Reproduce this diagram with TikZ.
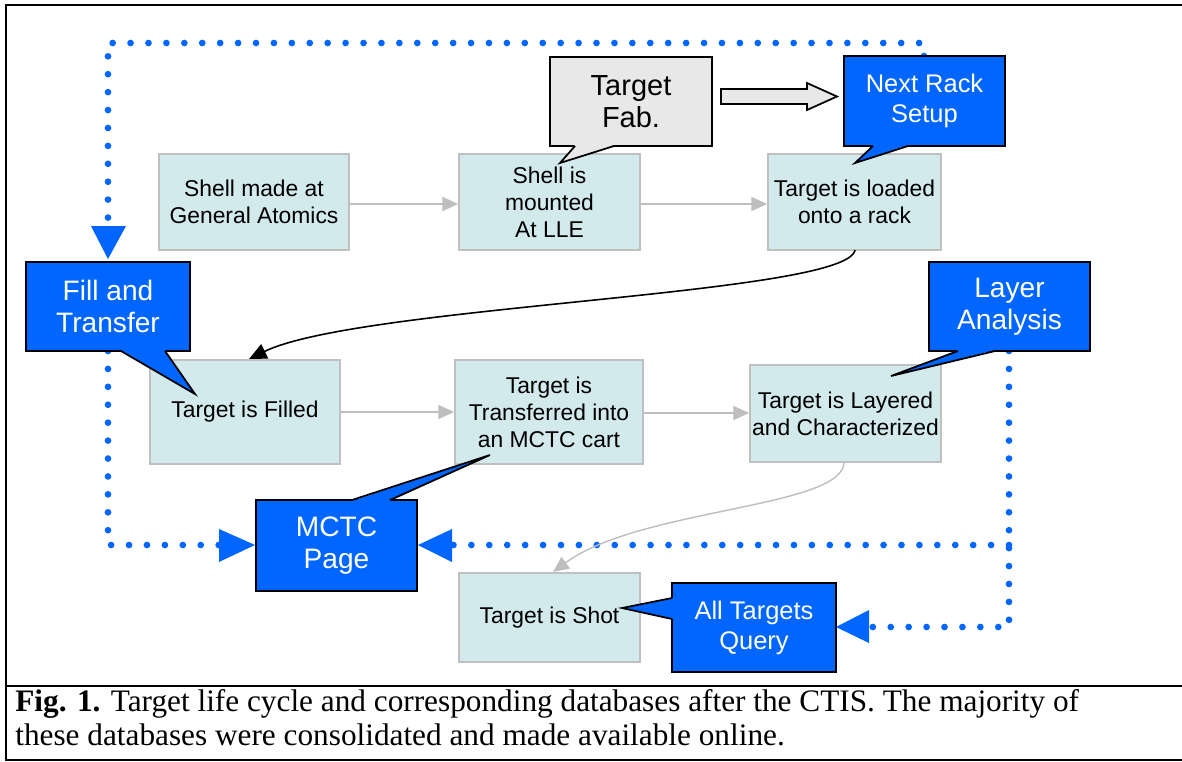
\documentclass[tikz,border=0pt]{standalone}
\usepackage{fontspec}
\setmainfont{Liberation Serif}
\newfontfamily\arialf{Liberation Sans}
\usetikzlibrary{arrows.meta}
\definecolor{cblue}{RGB}{0,102,255}
\definecolor{boxfill}{RGB}{210,234,236}
\definecolor{boxline}{RGB}{192,192,192}
\definecolor{fabgray}{RGB}{232,232,232}
\definecolor{flowgray}{RGB}{190,190,190}
\tikzset{
  stepbox/.style={draw=boxline, line width=1pt, fill=boxfill, align=center, inner sep=0pt,
    font=\arialf\fontsize{13}{15.3}\selectfont, text=black},
  bluecall/.style={draw=black, line width=1pt, fill=cblue, align=center, inner sep=0pt,
    font=\arialf\fontsize{16}{18}\selectfont, text=white},
  tailfill/.style={fill=cblue},
  tailline/.style={draw=black, line width=1pt},
  flow/.style={draw=flowgray, line width=0.8pt, -{Triangle[length=9pt,width=8pt]}},
  dotline/.style={draw=cblue, line width=3.8pt, line cap=round, dash pattern=on 0pt off 10.2pt},
  captext/.style={anchor=base west, inner sep=0pt, font=\fontsize{17.8}{20}\selectfont},
}
\begin{document}
\begin{tikzpicture}[x=0.02cm,y=-0.02cm]
\useasboundingbox (0,0) rectangle (1182,761);
\fill[white] (0,0) rectangle (1182,761);

% frame
\draw[line width=1.4pt] (1182,5) -- (6,5) -- (6,686);
\draw[line width=0.9pt] (6,686) -- (6,760) -- (1182,760);
\draw[line width=1.4pt] (6,686) -- (1182,686);

% corner coordinates of dotted routes
\coordinate (tr) at (924,43);
\coordinate (tl) at (108,43);
\coordinate (bl) at (108,545);
\coordinate (rm) at (1009,545);
\coordinate (rb) at (1009,627);

\coordinate (nextc) at (924.5,101);
\coordinate (fillc) at (108,306.5);
\coordinate (mctcc) at (336.5,545.5);
\coordinate (layerc) at (1009.5,306.5);
\coordinate (allc) at (754,627.5);

% dotted connectors
\path[dotline] (924,56) -- (tr) -- (tl) -- (108,226);
\path[dotline] (108,351) -- (bl) -- (219,545);
\path[dotline] (1009,351) -- (rb) -- (869,627);
\path[dotline] (rm) -- (452,545);
% arrow heads (solid triangles)
\fill[cblue] (91,226) -- (126,226) -- (108,259) -- cycle;
\fill[cblue] (219,529) -- (219,562) -- (255,545) -- cycle;
\fill[cblue] (452,529) -- (452,562) -- (418,545) -- cycle;
\fill[cblue] (869,610) -- (869,643) -- (836,627) -- cycle;

% step boxes
\node[stepbox, minimum width=3.8cm, minimum height=1.92cm] (b1) at (254,202) {Shell made at\\General Atomics};
\node[stepbox, minimum width=3.62cm, minimum height=1.92cm] (b2) at (549.5,202) {Shell is\\mounted\\At LLE};
\node[stepbox, minimum width=3.46cm, minimum height=1.92cm] (b3) at (854.5,202) {Target is loaded\\onto a rack};
\node[stepbox, minimum width=3.8cm, minimum height=2.08cm] (b4) at (245,412) {Target is Filled};
\node[stepbox, minimum width=3.76cm, minimum height=2.08cm] (b5) at (549,412) {Target is\\Transferred into\\an MCTC cart};
\node[stepbox, minimum width=3.82cm, minimum height=1.94cm] (b6) at (845.5,413.5) {Target is Layered\\and Characterized};
\node[stepbox, minimum width=3.62cm, minimum height=1.78cm] (b7) at (549.5,617.5) {Target is Shot};

% flow connectors
\draw[flow] (b1.east |- 0,204) -- (b2.west |- 0,204);
\draw[flow] (b2.east |- 0,204) -- (b3.west |- 0,204);
\draw[flow] (b4.east |- 0,412) -- (b5.west |- 0,412);
\draw[flow] (b5.east |- 0,413) -- (b6.west |- 0,413);
\draw[black, line width=0.9pt, -{Triangle[length=10pt,width=9pt]}] (855,250) .. controls (848,295) and (360,305) .. (249,359);
\draw[flowgray, line width=0.8pt, -{Triangle[length=9pt,width=8pt]}] (844,462) .. controls (844,508) and (640,508) .. (553,572);

% Target Fab callout
\node[draw=black, line width=1pt, fill=fabgray, minimum width=3.24cm, minimum height=1.78cm, inner sep=0pt, align=center,
  font=\arialf\fontsize{16.5}{19}\selectfont] (fab) at (631,101.5) {Target\\[-0.5pt]Fab.};
\fill[fabgray] (575,145) -- (560,163) -- (614,145) -- cycle;
\draw[tailline] (575,146) -- (560,163) -- (614,146);

% hollow arrow
\draw[line width=1pt, fill=fabgray] (721,89) -- (807,89) -- (807,83) -- (837,96.5) -- (807,110) -- (807,104) -- (721,104) -- cycle;

% Next Rack Setup
\node[bluecall, minimum width=3.22cm, minimum height=1.8cm, font=\arialf\fontsize{14.5}{17}\selectfont] (next) at (nextc) {Next Rack\\Setup};
\fill[tailfill] (873,145) -- (855,163) -- (908,145) -- cycle;
\draw[tailline] (873,146) -- (855,163) -- (908,146);

% Fill and Transfer
\node[bluecall, minimum width=3.28cm, minimum height=1.78cm] (fill) at (fillc) {Fill and\\Transfer};
\fill[tailfill] (121,350) -- (195,394) -- (165,350) -- cycle;
\draw[tailline] (121,351) -- (195,394) -- (165,351);

% Layer Analysis
\node[bluecall, minimum width=3.22cm, minimum height=1.78cm] (layer) at (layerc) {Layer\\Analysis};
\fill[tailfill] (995,350) -- (891,376) -- (958,350) -- cycle;
\draw[tailline] (995,351) -- (891,376) -- (958,351);

% MCTC Page
\node[bluecall, minimum width=3.22cm, minimum height=1.82cm] (mctc) at (mctcc) {MCTC\\Page};
\fill[tailfill] (352,501) -- (490,455) -- (390,501) -- cycle;
\draw[tailline] (352,500) -- (490,455) -- (390,500);

% All Targets Query
\node[bluecall, minimum width=3.28cm, minimum height=1.78cm, font=\arialf\fontsize{14.5}{17}\selectfont] (allq) at (allc) {All Targets\\Query};
\fill[tailfill] (673,598) -- (622,608) -- (673,619) -- cycle;
\draw[tailline] (672,598) -- (622,608) -- (672,619);

% caption
\node[captext] (cap1) at (15,711)
  {\textbf{Fig. 1.} Target life cycle and corresponding databases after the CTIS. The majority of};
\node[captext] (cap2) at (15,745)
  {these databases were consolidated and made available online.};
\end{tikzpicture}
\end{document}
